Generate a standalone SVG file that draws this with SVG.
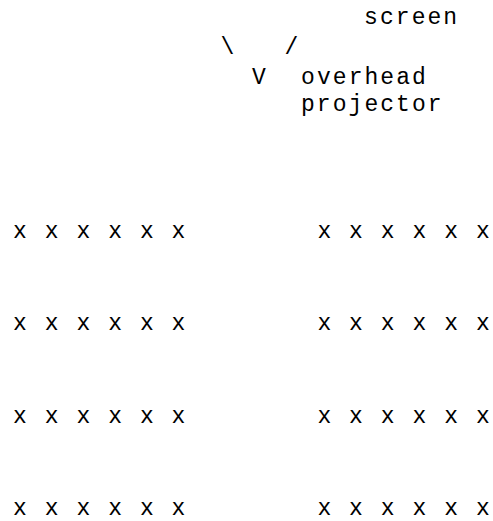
<svg xmlns="http://www.w3.org/2000/svg" width="493" height="521" viewBox="0 0 493 521">
<style>
text{font-family:"Courier New","Liberation Mono",monospace;font-size:23px;letter-spacing:2.05px;fill:#000;white-space:pre}
</style>
<rect width="493" height="521" fill="#fff"/>
<g id="screen"><text x="364.1" y="24">screen</text></g>
<g id="connectors">
<text x="220.6" y="54">\</text>
<text x="284.4" y="54">/</text>
<text x="252.1" y="84">V</text>
</g>
<g id="projector"><text x="301.1" y="84">overhead</text><text x="301" y="111">projector</text></g>
<g id="seats-left">
<text x="13.1" y="238">x x x x x x</text>
<text x="13.1" y="330">x x x x x x</text>
<text x="13.1" y="423">x x x x x x</text>
<text x="13.1" y="515">x x x x x x</text>
</g>
<g id="seats-right">
<text x="317.4" y="238">x x x x x x</text>
<text x="317.4" y="330">x x x x x x</text>
<text x="317.4" y="423">x x x x x x</text>
<text x="317.4" y="515">x x x x x x</text>
</g>
</svg>
